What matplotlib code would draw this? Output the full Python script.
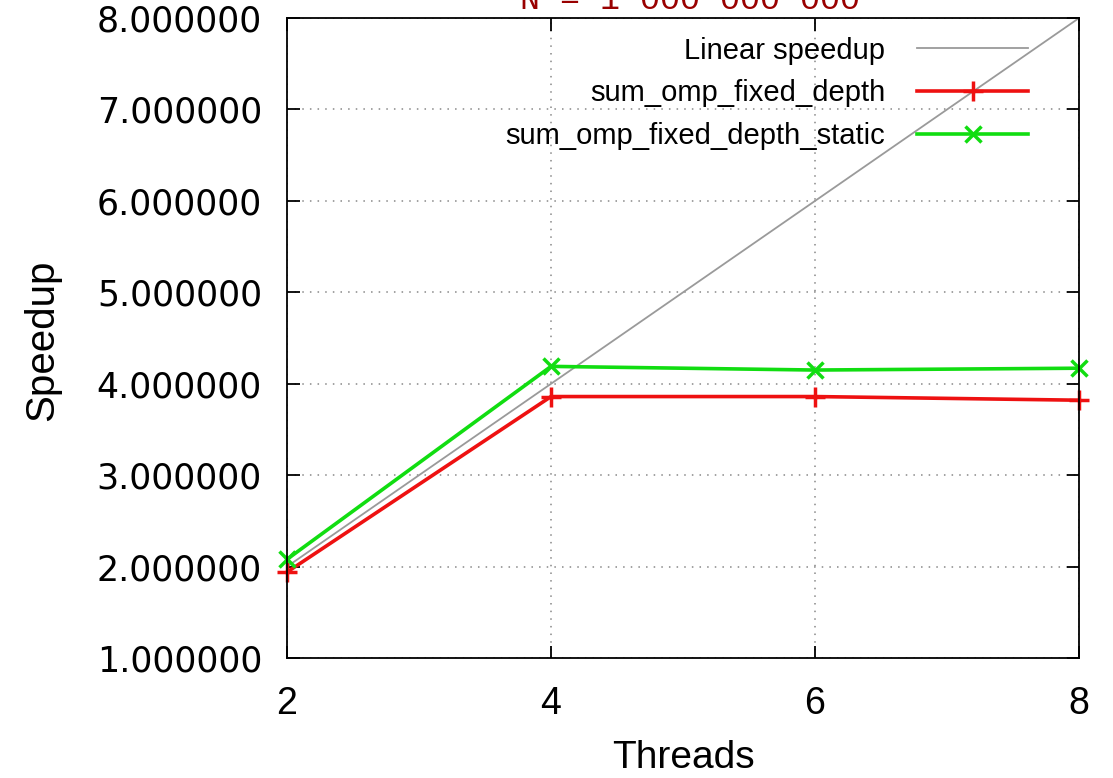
import numpy as np
import matplotlib.pyplot as plt
from matplotlib.ticker import FormatStrFormatter

# values
threads = [2, 4, 6, 8]
linear_speedup = [2, 4, 6, 8]
fixed_depth = [1.94, 3.86, 3.86, 3.82]
fixed_depth_static = [2.08, 4.19, 4.15, 4.17]

title = "N = 1 000 000 000"
y_ticks = [1, 2, 3, 4, 5, 6, 7, 8]
x_ticks = [2, 4, 6, 8]

fig = plt.figure(figsize=(11.13, 7.78), dpi=100)
ax = fig.add_axes([0.2579, 0.1542, 0.7116, 0.8226])

ax.plot(threads, linear_speedup, color="#9a9a9a", lw=1.3, label="Linear speedup")
ax.plot(threads, fixed_depth, color="#ee1111", lw=2.6, marker="+", ms=14, mew=2.5,
        label="sum_omp_fixed_depth", clip_on=False)
ax.plot(threads, fixed_depth_static, color="#11dd11", lw=2.6, marker="x", ms=11, mew=2.5,
        label="sum_omp_fixed_depth_static", clip_on=False)

ax.set_xlim(2, 8)
ax.set_ylim(1, 8)
ax.set_xticks(x_ticks)
ax.set_yticks(y_ticks)
ax.yaxis.set_major_formatter(FormatStrFormatter("%.6f"))
ax.grid(True, color="#888888", ls=(0, (1, 4)), lw=1.1)

ax.tick_params(direction="in", length=9, width=1.3, top=True, right=True)
ax.tick_params(axis="y", pad=18, labelsize=25, labelfontfamily="DejaVu Sans")
ax.tick_params(axis="x", pad=20, labelsize=27, labelfontfamily="Liberation Sans")
for sp in ax.spines.values():
    sp.set_linewidth(1.3)

ax.set_xlabel("Threads", fontsize=28, family="Liberation Sans")
ax.set_ylabel("Speedup", fontsize=29, family="Liberation Sans")
ax.xaxis.set_label_coords(0.5, -0.128)
ax.xaxis.label.set_va("top")
ax.yaxis.set_label_coords(-0.309, 0.497)
ax.yaxis.label.set_va("center")

leg = ax.legend(loc="upper right", bbox_to_anchor=(0.969, 1.012), frameon=False,
                markerfirst=False, handlelength=3.8, handletextpad=1.1,
                labelspacing=0.5, prop={"family": "Liberation Sans", "size": 21})

fig.text(0.62, 1 - 9 / 778, title, color="#990000", fontsize=24,
         family="Liberation Mono", ha="center", va="baseline")

fig.savefig("out.png", dpi=100, facecolor="white")
